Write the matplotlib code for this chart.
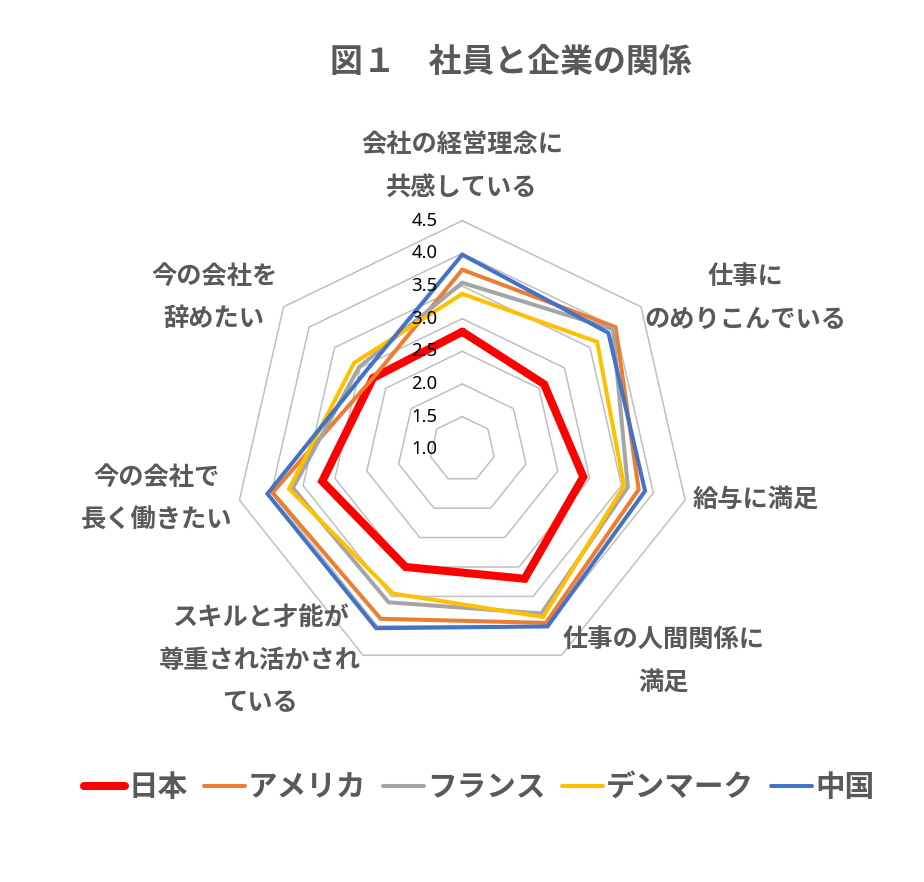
import numpy as np
import matplotlib
matplotlib.use("Agg")
import matplotlib.pyplot as plt
from matplotlib.transforms import offset_copy
from matplotlib.font_manager import FontProperties

plt.rcParams['font.family'] = ['Noto Sans CJK JP', 'DejaVu Sans']

# ---- data ----
categories = ["会社の経営理念に\n共感している", "仕事に\nのめりこんでいる", "給与に満足",
              "仕事の人間関係に\n満足", "スキルと才能が\n尊重され活かされ\nている",
              "今の会社で\n長く働きたい", "今の会社を\n辞めたい"]
series_names = ["日本", "アメリカ", "フランス", "デンマーク", "中国"]
japan   = [2.80, 2.60, 2.90, 3.20, 3.00, 3.20, 2.75]
america = [3.75, 4.00, 3.77, 3.95, 3.88, 3.98, 2.75]
france  = [3.55, 3.95, 3.60, 3.79, 3.60, 3.66, 3.02]
denmark = [3.38, 3.64, 3.54, 3.85, 3.45, 3.72, 3.12]
china   = [3.98, 3.86, 3.87, 4.01, 4.04, 4.06, 2.90]
series_values = [japan, america, france, denmark, china]
ticks = [1.0, 1.5, 2.0, 2.5, 3.0, 3.5, 4.0, 4.5]
title = "図１　社員と企業の関係"

# ---- style ----
colors = ["#FF0000", "#ED7D31", "#A5A5A5", "#FFC000", "#4472C4"]
widths = [5.8, 2.9, 2.9, 2.9, 2.9]
text_gray = "#595959"
grid_gray = "#BFBFBF"

W, H = 924, 882
fig = plt.figure(figsize=(W / 100, H / 100), dpi=100)
fig.patch.set_facecolor("white")

cx, cy, rad = 462.3, 449.3, 228.6
ax = fig.add_axes([(cx - rad) / W, 1 - (cy + rad) / H, 2 * rad / W, 2 * rad / H],
                  projection="polar")
ax.set_theta_offset(np.pi / 2)
ax.set_theta_direction(-1)
ax.set_ylim(ticks[0], ticks[-1])
ax.set_xticks([])
ax.set_yticks([])
ax.grid(False)
ax.spines["polar"].set_visible(False)
ax.patch.set_alpha(0)

n = len(categories)
angles = np.linspace(0, 2 * np.pi, n, endpoint=False)
ang_c = np.concatenate([angles, angles[:1]])

# polygon grid
for lv in ticks[1:]:
    ax.plot(ang_c, [lv] * (n + 1), color=grid_gray, lw=1.1, zorder=1, clip_on=False)

# series
for name, vals, c, lw in zip(series_names, series_values, colors, widths):
    v = list(vals) + [vals[0]]
    ax.plot(ang_c, v, color=c, lw=lw, label=name, zorder=3, clip_on=False,
            solid_joinstyle="miter", solid_capstyle="round")

# tick labels
tr = offset_copy(ax.transData, fig=fig, x=-25, y=0, units="dots")
for t in ticks:
    ax.text(0, t, f"{t:.1f}", transform=tr, ha="right", va="center",
            fontsize=13.3, color="black", family=["Noto Sans", "DejaVu Sans"], zorder=5)

# category labels (layout positions in pixels)
label_pos = [(462, 166), (745, 298), (756, 499), (664, 661),
             (260, 660), (157, 498), (214, 297)]
for lab, (px, py) in zip(categories, label_pos):
    fig.text(px / W, 1 - py / H, lab, ha="center", va="center", fontsize=18.2,
             color=text_gray, weight="bold", linespacing=1.72, multialignment="center")

# title
fig.text(511 / W, 1 - 62 / H, title, ha="center", va="center", fontsize=23.7,
         color=text_gray, weight="bold")

# legend
fp = FontProperties(family=["Noto Sans CJK JP", "DejaVu Sans"], size=21.3, weight="bold")
leg = fig.legend(loc="center", bbox_to_anchor=(479 / W, 1 - 787 / H), ncol=5,
                 frameon=False, handlelength=1.4, handletextpad=0.1,
                 columnspacing=0.55, prop=fp, labelcolor=text_gray)

fig.savefig("out.png", dpi=100, facecolor="white")
